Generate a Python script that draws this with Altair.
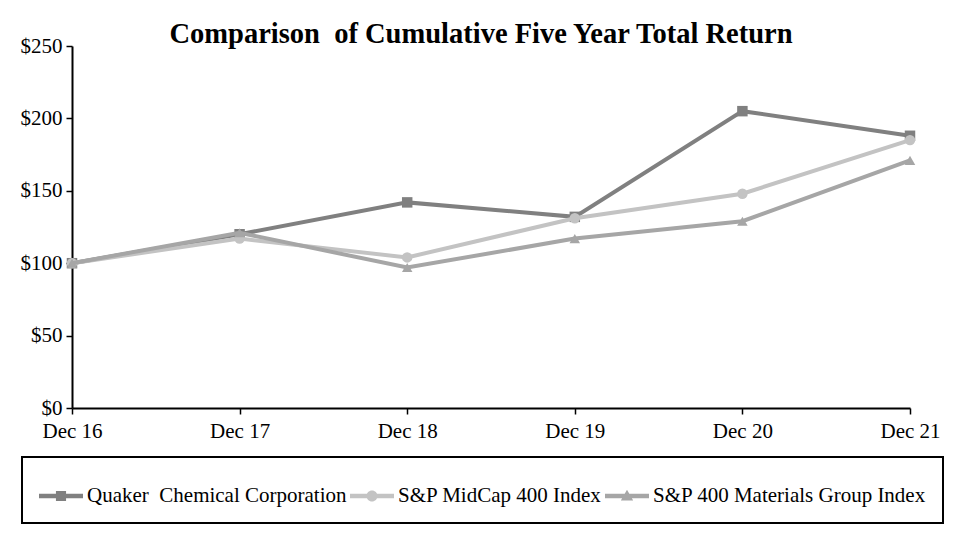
import altair as alt
import pandas as pd

years = ["Dec 16", "Dec 17", "Dec 18", "Dec 19", "Dec 20", "Dec 21"]
series = ["Quaker\u00a0 Chemical Corporation", "S&P MidCap 400 Index", "S&P 400 Materials Group Index"]
quaker = [100, 120, 142, 132, 205, 188]
midcap = [100, 117, 104, 131, 148, 185]
materials = [100, 121, 97, 117, 129, 171]
y_ticks = [0, 50, 100, 150, 200, 250]

colors = ["#808080", "#c3c3c3", "#a6a6a6"]
point_shapes = ["square", "circle", "triangle-up"]
LINE = "M-1,-0.1L1,-0.1L1,0.1L-1,0.1Z"
legend_shapes = [
    LINE + "M-0.23,-0.23L0.23,-0.23L0.23,0.23L-0.23,0.23Z",
    LINE + "M0.25,0A0.25,0.25,0,1,1,-0.25,0A0.25,0.25,0,1,1,0.25,0Z",
    LINE + "M0,-0.28L0.28,0.21L-0.28,0.21Z",
]

rows = []
for name, vals in zip(series, [quaker, midcap, materials]):
    for yr, v in zip(years, vals):
        rows.append({"year": yr, "value": v, "series": name})
df = pd.DataFrame(rows)

FONT = "Liberation Serif"
FS = 21

x_enc = alt.X(
    "year:O",
    sort=years,
    scale=alt.Scale(type="point", padding=0),
    axis=alt.Axis(
        title=None, labelAngle=0, labelFontSize=FS, labelFont=FONT, labelColor="black",
        domainColor="black", domainWidth=2, tickColor="black", tickWidth=1.5, tickSize=6,
        labelPadding=6, grid=False,
    ),
)
y_enc = alt.Y(
    "value:Q",
    scale=alt.Scale(domain=[0, 250], nice=False),
    axis=alt.Axis(
        title=None, values=y_ticks, labelExpr="'$' + datum.label", labelFontSize=FS,
        labelFont=FONT, labelColor="black", domainColor="black", domainWidth=2,
        tickColor="black", tickWidth=1.5, tickSize=6, labelPadding=4, grid=False,
    ),
)

base = alt.Chart(df).encode(x=x_enc, y=y_enc)

layers = []
for name, col, shp in zip(series, colors, point_shapes):
    sub = base.transform_filter(alt.datum.series == name)
    layers.append(sub.mark_line(strokeWidth=4, color=col))
    layers.append(sub.mark_point(filled=True, size=110, opacity=1, shape=shp, color=col))

legend_layer = base.mark_point(filled=True, size=1936, opacity=1).encode(
    color=alt.Color("series:N", scale=alt.Scale(domain=series, range=colors),
                    legend=alt.Legend(title=None, labelLimit=0)),
    shape=alt.Shape("series:N", scale=alt.Scale(domain=series, range=legend_shapes),
                    legend=alt.Legend(title=None, labelLimit=0)),
).transform_filter("datum.value < 0")
layers.append(legend_layer)

chart = (
    alt.layer(*layers)
    .properties(
        width=838,
        height=362,
        autosize=alt.AutoSizeParams(type="none"),
        padding={"left": 64, "top": 38, "right": 45, "bottom": 117},
        title=alt.TitleParams(
            "Comparison\u00a0 of Cumulative Five Year Total Return",
            font=FONT, fontSize=28.5, fontWeight="bold", color="black",
            anchor="middle", dx=-10, dy=17, offset=4,
        ),
    )
    .configure_view(stroke=None)
    .configure_legend(
        orient="none", legendX=-50, legendY=411, direction="horizontal",
        strokeColor="black", strokeWidth=2, padding=17, labelFont=FONT, labelFontSize=FS,
        labelColor="black", labelOffset=4, columnPadding=3, symbolSize=1936,
        symbolStrokeWidth=0, symbolOpacity=1, labelLimit=0,
    )
)

chart.save("out.html", embed_options={"renderer": "svg", "actions": False})
